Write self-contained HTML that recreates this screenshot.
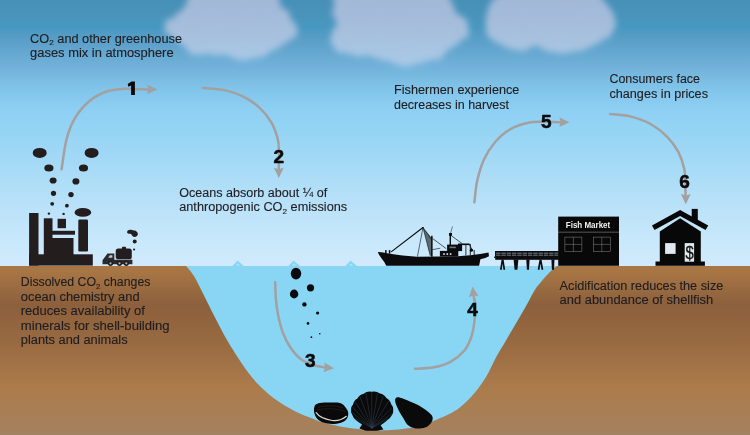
<!DOCTYPE html>
<html>
<head>
<meta charset="utf-8">
<title>Ocean acidification</title>
<style>
html,body{margin:0;padding:0;background:#fff;}
body{width:750px;height:435px;overflow:hidden;font-family:"Liberation Sans",sans-serif;}
svg{display:block;will-change:transform;}
.t{font-family:"Liberation Sans",sans-serif;font-size:12.5px;fill:#1f1d20;stroke:#1f1d20;stroke-width:0.12px;}
.n{font-family:"Liberation Sans",sans-serif;font-size:19px;font-weight:bold;fill:#0a0a0c;stroke:#0a0a0c;stroke-width:0.55px;stroke-linejoin:round;text-anchor:middle;}
.ar{fill:none;stroke:#a3a0a0;stroke-width:2.5;stroke-linecap:round;}
.ah{fill:#a3a0a0;}
.k{fill:#231d1e;}
#house .k{fill:#080808;}
#shells .k{fill:#0a0a0b;}
#pier.k{fill:#0d0d0f;}
</style>
</head>
<body>
<svg width="750" height="435" viewBox="0 0 750 435">
<defs>
<linearGradient id="sky" x1="0" y1="0" x2="0" y2="266" gradientUnits="userSpaceOnUse">
<stop offset="0.0000" stop-color="#4690b8"/>
<stop offset="0.0564" stop-color="#4a93bb"/>
<stop offset="0.1015" stop-color="#4698c0"/>
<stop offset="0.1316" stop-color="#549cc5"/>
<stop offset="0.1692" stop-color="#5ea2cb"/>
<stop offset="0.2444" stop-color="#70b0d8"/>
<stop offset="0.3383" stop-color="#82c5ea"/>
<stop offset="0.4060" stop-color="#8dcff3"/>
<stop offset="0.4699" stop-color="#93d3f4"/>
<stop offset="0.5639" stop-color="#9ed7f5"/>
<stop offset="0.7143" stop-color="#b2dff8"/>
<stop offset="0.8459" stop-color="#c2e5fa"/>
<stop offset="0.9586" stop-color="#cdeafc"/>
<stop offset="1.0000" stop-color="#d2e9fc"/>
</linearGradient>
<linearGradient id="gnd" x1="0" y1="266" x2="0" y2="435" gradientUnits="userSpaceOnUse">
<stop offset="0" stop-color="#a87645"/>
<stop offset="0.03" stop-color="#a87645"/>
<stop offset="0.23" stop-color="#8c603c"/>
<stop offset="0.47" stop-color="#9a6b42"/>
<stop offset="0.73" stop-color="#ac7c4c"/>
<stop offset="0.96" stop-color="#a6805c"/>
<stop offset="1" stop-color="#a08262"/>
</linearGradient>
<linearGradient id="cg" x1="0" y1="0" x2="0" y2="64" gradientUnits="userSpaceOnUse"><stop offset="0" stop-color="#a2b8d7"/><stop offset="0.55" stop-color="#a6c0dd"/><stop offset="1" stop-color="#a9cae7"/></linearGradient>
<filter id="cb" x="-5%" y="-20%" width="110%" height="150%"><feTurbulence type="fractalNoise" baseFrequency="0.075" numOctaves="2" seed="4" result="n"/><feDisplacementMap in="SourceGraphic" in2="n" scale="9" xChannelSelector="R" yChannelSelector="G" result="d"/><feGaussianBlur in="d" stdDeviation="3.1"/></filter>
<path id="head" d="M0,0 L-10.3,-4.9 L-8.8,0 L-10.3,4.9 Z"/>
</defs>

<!-- sky -->
<rect x="0" y="0" width="750" height="270" fill="url(#sky)"/>

<!-- clouds -->
<g id="clouds" filter="url(#cb)" fill="url(#cg)">
<path d="M191.0,-8.0 C189.5,-5.2 184.9,4.7 182.0,8.5 C179.1,12.3 176.3,12.9 173.5,15.0 C170.7,17.1 166.2,18.5 165.0,21.3 C163.8,24.1 164.2,28.8 166.0,32.0 C167.8,35.2 172.2,37.7 175.6,40.5 C179.0,43.3 182.4,46.3 186.3,49.0 C190.2,51.7 194.4,55.4 199.0,56.5 C203.6,57.6 209.4,55.5 214.0,55.5 C218.6,55.5 222.2,55.6 226.8,56.5 C231.4,57.4 236.7,60.6 241.7,60.8 C246.7,61.0 252.1,58.9 256.7,57.6 C261.3,56.4 265.2,55.2 269.5,53.3 C273.8,51.3 278.4,48.4 282.3,45.9 C286.2,43.4 290.5,41.1 293.0,38.4 C295.5,35.7 297.2,33.1 297.2,29.9 C297.2,26.7 294.8,22.4 293.0,19.2 C291.2,16.0 288.7,13.4 286.5,10.7 C284.3,8.0 281.4,6.3 280.0,3.2 C278.6,0.1 278.3,-6.1 278.0,-8.0 Z"/>
<path d="M335.0,-8.0 C334.4,-4.9 331.5,5.4 331.7,10.7 C331.9,15.9 336.4,19.2 336.0,23.5 C335.6,27.8 330.3,32.4 329.6,36.3 C328.9,40.2 329.4,44.2 331.7,47.0 C334.0,49.8 338.3,51.9 343.5,53.3 C348.7,54.7 356.7,54.4 362.7,55.5 C368.7,56.6 374.4,58.3 379.7,59.7 C385.0,61.1 389.0,63.1 394.7,64.0 C400.4,64.9 407.8,65.5 413.9,65.0 C419.9,64.5 425.7,62.8 431.0,60.8 C436.3,58.8 441.6,56.0 445.9,53.3 C450.1,50.6 452.9,47.6 456.5,44.8 C460.1,42.0 465.1,39.1 467.2,36.3 C469.3,33.4 470.4,30.9 469.3,27.7 C468.2,24.5 463.6,20.6 460.8,17.0 C458.0,13.5 454.6,10.6 452.3,6.4 C450.0,2.2 447.9,-5.6 447.0,-8.0 Z"/>
<path d="M499.0,-8.0 C497.5,-5.8 492.5,0.8 490.0,5.0 C487.5,9.2 484.8,12.5 484.0,17.0 C483.2,21.5 483.5,28.2 485.0,32.0 C486.5,35.8 490.2,38.1 493.0,40.0 C495.8,41.9 499.0,42.0 502.0,43.5 C505.0,45.0 508.2,47.8 511.0,49.0 C513.8,50.2 515.8,50.7 519.0,50.5 C522.2,50.3 526.5,48.7 530.0,48.0 C533.5,47.3 536.7,45.9 540.0,46.5 C543.3,47.1 546.7,50.3 550.0,51.5 C553.3,52.7 556.5,53.4 560.0,53.5 C563.5,53.6 567.5,52.7 571.0,52.0 C574.5,51.3 577.5,50.3 581.0,49.5 C584.5,48.7 588.5,48.1 592.0,47.0 C595.5,45.9 598.8,44.8 602.0,43.0 C605.2,41.2 608.7,38.6 611.0,36.0 C613.3,33.4 615.4,30.8 616.0,27.5 C616.6,24.2 615.3,19.1 614.5,16.0 C613.7,12.9 612.4,11.2 611.0,9.0 C609.6,6.8 607.8,5.8 606.0,3.0 C604.2,0.2 601.0,-6.2 600.0,-8.0 Z"/>
</g>

<!-- ground -->
<rect x="0" y="266" width="750" height="169" fill="url(#gnd)"/>

<!-- water -->
<path id="water" fill="#88d5f4" d="M186.2,266 L232.4,266 L237.6,260.5 L243.8,266 L288.4,266 L293.6,260.5 L299.8,266 L345.4,266 L350.6,260.5 L356.8,266 L556.9,266 C555.8,266.9 552.8,269.2 550.5,271.5 C548.2,273.8 545.6,276.4 543.0,279.5 C540.4,282.6 537.3,286.1 534.8,289.9 C532.3,293.7 530.5,298.1 528.0,302.5 C525.5,306.9 522.7,311.8 520.0,316.5 C517.3,321.2 514.5,325.9 511.8,330.5 C509.1,335.1 506.6,339.7 504.0,344.0 C501.4,348.3 499.1,351.7 496.5,356.5 C493.9,361.3 490.8,368.3 488.3,372.9 C485.8,377.5 483.7,380.7 481.4,384.0 C479.1,387.3 476.8,390.1 474.5,392.9 C472.2,395.6 469.9,398.2 467.6,400.5 C465.3,402.8 463.0,404.8 460.7,406.7 C458.4,408.6 456.1,410.2 453.8,411.6 C451.5,413.0 449.4,414.1 446.8,415.3 C444.2,416.5 440.6,417.9 438.1,419.0 C435.6,420.1 434.6,420.6 431.6,421.6 C428.6,422.6 424.1,423.8 420.0,425.0 C415.9,426.2 413.2,427.7 406.7,428.6 C400.2,429.5 389.9,430.5 381.0,430.5 C372.1,430.5 360.7,429.5 353.0,428.6 C345.3,427.7 340.5,426.5 335.0,425.3 C329.5,424.1 323.8,422.8 320.0,421.7 C316.2,420.6 315.5,419.8 312.4,418.6 C309.3,417.4 305.0,415.9 301.4,414.3 C297.8,412.7 294.1,410.8 290.5,408.8 C286.9,406.8 283.2,404.6 279.6,402.2 C276.0,399.8 272.3,397.2 268.7,394.2 C265.1,391.2 261.7,388.0 258.2,384.3 C254.7,380.6 250.9,376.2 247.6,371.8 C244.3,367.4 241.6,363.3 238.2,358.0 C234.8,352.7 230.9,346.8 227.0,340.0 C223.1,333.2 218.9,325.1 215.0,317.5 C211.1,309.9 207.0,301.4 203.5,294.5 C200.0,287.6 196.9,280.9 194.0,276.1 C191.1,271.4 187.5,267.7 186.2,266.0 Z"/>

<g fill="#b4e5fa"><path d="M236,265.6 L237.8,263.4 L240.2,265.6 Z"/><path d="M292,265.6 L293.8,263.4 L296.2,265.6 Z"/><path d="M349,265.6 L350.8,263.4 L353.2,265.6 Z"/></g>
<!-- arrows -->
<g id="arrows">
<path class="ar" d="M61.6,169.3 C62.4,164.2 64.4,147.5 66.6,139.0 C68.8,130.5 71.1,124.5 74.8,118.3 C78.5,112.1 83.5,106.1 88.6,101.7 C93.7,97.3 99.2,94.2 105.2,92.0 C111.2,89.8 117.4,89.2 124.5,88.8 C131.6,88.4 144.1,89.4 148.0,89.5"/>
<use href="#head" class="ah" transform="translate(157.3,89.6) rotate(1)"/>
<path class="ar" d="M203.0,87.9 C206.3,88.2 216.5,88.5 223.1,89.9 C229.7,91.3 236.4,93.3 242.4,96.2 C248.4,99.1 254.1,102.8 258.9,107.2 C263.7,111.6 268.2,117.1 271.3,122.4 C274.4,127.7 276.4,133.9 277.7,138.9 C279.0,143.9 278.8,147.8 279.0,152.7 C279.2,157.6 278.8,165.9 278.8,168.5"/>
<use href="#head" class="ah" transform="translate(278.8,178.1) rotate(90)"/>
<path class="ar" d="M275.2,282.3 C275.3,285.1 275.4,293.6 275.9,299.2 C276.4,304.8 277.1,310.4 278.3,316.0 C279.5,321.6 281.0,327.8 283.0,333.0 C285.0,338.2 287.3,343.1 290.4,347.5 C293.4,351.9 297.5,356.7 301.3,359.6 C305.1,362.5 309.4,363.7 313.3,365.0 C317.2,366.3 323.1,367.1 325.0,367.5"/>
<use href="#head" class="ah" transform="translate(334,368.2) rotate(5)"/>
<path class="ar" d="M415.1,368.8 C418.2,368.6 428.1,368.5 434.0,367.3 C439.9,366.1 445.8,364.4 450.8,361.6 C455.8,358.8 460.9,354.6 464.4,350.5 C467.8,346.4 469.8,341.5 471.4,336.5 C473.1,331.7 473.9,326.1 474.5,320.8 C475.1,315.6 475.1,309.2 475.0,305.0 C474.9,300.8 473.8,297.1 473.6,295.5"/>
<use href="#head" class="ah" transform="translate(472.6,286.6) rotate(-96)"/>
<path class="ar" d="M474.4,202.3 C474.9,198.7 475.6,188.0 477.2,180.8 C478.8,173.7 481.0,165.9 484.0,159.4 C487.0,152.9 491.0,146.8 495.4,141.7 C499.8,136.6 505.0,132.3 510.5,129.1 C516.0,125.9 522.5,123.9 528.2,122.7 C534.0,121.5 539.7,121.9 545.0,121.8 C550.3,121.7 557.5,122.1 560.0,122.2"/>
<use href="#head" class="ah" transform="translate(569.5,122.2)"/>
<path class="ar" d="M610.1,113.9 C613.5,114.3 623.6,114.7 630.3,116.4 C637.0,118.1 644.4,120.6 650.5,124.0 C656.6,127.4 662.4,132.0 667.0,136.6 C671.6,141.2 675.4,146.5 678.3,151.8 C681.1,157.1 682.9,162.9 684.1,168.2 C685.3,173.5 685.2,178.9 685.4,183.4 C685.6,187.9 685.5,193.1 685.5,195.0"/>
<use href="#head" class="ah" transform="translate(685.8,204.3) rotate(90)"/>
</g>

<!-- numbers -->
<g id="nums">
<path fill="#0a0a0c" d="M131.5,81.4 L134.9,81.4 L134.9,95.1 L131.1,95.1 L131.1,85.4 L128.4,86.8 L127.7,83.9 Z"/>
<text class="n" x="278.9" y="162.9">2</text>
<text class="n" x="310.3" y="366.6">3</text>
<text class="n" x="472.6" y="315.5">4</text>
<text class="n" x="546.2" y="128.2">5</text>
<text class="n" x="684.6" y="187.8">6</text>
</g>

<!-- labels -->
<g id="labels">
<text class="t" x="30.1" y="42.8" textLength="151.9" lengthAdjust="spacingAndGlyphs">CO<tspan font-size="8" dy="2.5">2</tspan><tspan dy="-2.5"> and other greenhouse</tspan></text>
<text class="t" x="30.1" y="57.2" textLength="143.5" lengthAdjust="spacingAndGlyphs">gases mix in atmosphere</text>

<text class="t" x="179.2" y="196.7" textLength="148" lengthAdjust="spacingAndGlyphs">Oceans absorb about ¼ of</text>
<text class="t" x="179.2" y="211.2" textLength="168" lengthAdjust="spacingAndGlyphs">anthropogenic CO<tspan font-size="8" dy="2.5">2</tspan><tspan dy="-2.5"> emissions</tspan></text>

<text class="t" x="394" y="94" textLength="125.4" lengthAdjust="spacingAndGlyphs">Fishermen experience</text>
<text class="t" x="394" y="108.5" textLength="115" lengthAdjust="spacingAndGlyphs">decreases in harvest</text>

<text class="t" x="609.4" y="83" textLength="90.6" lengthAdjust="spacingAndGlyphs">Consumers face</text>
<text class="t" x="609.4" y="97.6" textLength="98.6" lengthAdjust="spacingAndGlyphs">changes in prices</text>

<text class="t" x="20.8" y="286.3" textLength="129.6" lengthAdjust="spacingAndGlyphs">Dissolved CO<tspan font-size="8" dy="2.5">2</tspan><tspan dy="-2.5"> changes</tspan></text>
<text class="t" x="20.8" y="300.8" textLength="118.8" lengthAdjust="spacingAndGlyphs">ocean chemistry and</text>
<text class="t" x="20.8" y="315.2" textLength="124.1" lengthAdjust="spacingAndGlyphs">reduces availability of</text>
<text class="t" x="20.8" y="329.8" textLength="148.8" lengthAdjust="spacingAndGlyphs">minerals for shell-building</text>
<text class="t" x="20.8" y="344.3" textLength="106.8" lengthAdjust="spacingAndGlyphs">plants and animals</text>

<text class="t" x="559.6" y="289.9" textLength="163.7" lengthAdjust="spacingAndGlyphs">Acidification reduces the size</text>
<text class="t" x="559.6" y="304.4" textLength="153.6" lengthAdjust="spacingAndGlyphs">and abundance of shellfish</text>
</g>


<!-- factory -->
<g id="factory" class="k">
<rect x="29.1" y="213" width="9.4" height="52.6"/>
<rect x="29.1" y="254.3" width="63.7" height="11.3"/>
<rect x="43.8" y="218.3" width="8.7" height="37"/>
<rect x="52" y="230.8" width="23" height="3.9"/>
<rect x="52" y="238" width="21.5" height="17"/>
<rect x="57.6" y="218.8" width="8.4" height="9.4"/>
<rect x="78.3" y="219.5" width="9.7" height="31.9" rx="1.2"/>
<ellipse cx="82.9" cy="212.4" rx="8.3" ry="4.4"/>
</g>
<!-- factory smoke -->
<g id="smoke" class="k">
<ellipse cx="39.7" cy="152.9" rx="7" ry="5"/>
<ellipse cx="48.9" cy="168" rx="4.6" ry="3.5"/>
<ellipse cx="53.1" cy="180.5" rx="3.5" ry="3.1"/>
<circle cx="53.5" cy="193.3" r="2.6"/>
<circle cx="52.2" cy="203.8" r="1.9"/>
<circle cx="48.9" cy="213.6" r="1.2"/>
<ellipse cx="91.6" cy="152.9" rx="7" ry="5"/>
<ellipse cx="83.5" cy="168" rx="4.6" ry="3.5"/>
<ellipse cx="75.9" cy="181.4" rx="3.5" ry="3.1"/>
<circle cx="71" cy="194.6" r="2.7"/>
<circle cx="66.9" cy="205.7" r="1.9"/>
<circle cx="63.6" cy="213.9" r="1.2"/>
</g>
<!-- truck -->
<g id="truck">
<path class="k" d="M127.1,232.1 C127.2,229.7 130.2,229.3 132.6,230.2 C134.4,230.1 136.8,230.8 137.6,232.8 C138.4,235 137,237 134.8,236.9 C132.8,236.8 131.8,235.4 131.4,234.2 C130.4,233.8 127.0,234.3 127.1,232.1 Z"/>
<circle class="k" cx="134.7" cy="241.6" r="2"/>
<circle class="k" cx="134.1" cy="249.5" r="1.1"/>
<rect class="k" x="122" y="246.8" width="4" height="2.2" rx="0.6"/>
<rect class="k" x="115.7" y="248.5" width="16.1" height="10.8" rx="2.6"/>
<path fill="#2c2a2b" d="M102.5,264.3 L102.5,260.2 L107.4,253.6 L114.3,253.6 L114.3,259.7 L132.4,259.7 L132.4,264.3 Z"/>
<path fill="#b9cbd6" d="M108.2,257.8 L109.8,255.2 L112.4,255.2 L112.4,257.8 Z"/>
<circle class="k" cx="110.5" cy="263.3" r="2.6"/><circle fill="#aeb4b8" cx="110.5" cy="263.3" r="1.1"/>
<circle class="k" cx="119.5" cy="263.3" r="2.6"/><circle fill="#aeb4b8" cx="119.5" cy="263.3" r="1.1"/>
<circle class="k" cx="126.3" cy="263.3" r="2.6"/><circle fill="#aeb4b8" cx="126.3" cy="263.3" r="1.1"/>
</g>
<!-- water bubbles -->
<g id="bubbles" fill="#0b0b0d">
<ellipse cx="296" cy="273.6" rx="5.2" ry="5.8"/>
<circle cx="310.5" cy="287.8" r="3.6"/>
<ellipse cx="294.1" cy="294" rx="4.2" ry="4.4"/>
<circle cx="304.4" cy="304.4" r="2.2"/>
<circle cx="317.6" cy="313" r="1.6"/>
<circle cx="308" cy="323.4" r="1.3"/>
<circle cx="319.8" cy="333.8" r="0.8"/>
<circle cx="311.4" cy="337.2" r="0.9"/>
</g>
<!-- boat -->
<g id="boat" fill="#0b0b0d" stroke="#0b0b0d" stroke-linecap="round">
<path stroke="none" d="M377.8,252 L381.6,252.3 L391.5,254 L402.6,255.6 L416.9,256.7 L440,256.6 L458,256.2 L470,255.2 L480.2,254 L488.5,252.6 L489,256.2 L485.2,257.9 L480.4,259.2 L479.1,265.8 L386.2,265.8 L384.4,262.3 L381.6,258.4 L378.9,254.5 Z"/>
<rect stroke="none" x="385.1" y="250.1" width="1.5" height="3"/>
<rect stroke="none" x="388.8" y="250.1" width="1.6" height="3.6"/>
<line x1="391.5" y1="251.6" x2="423" y2="227.5" stroke-width="1.15"/>
<line x1="423" y1="227.5" x2="417.5" y2="256.2" stroke-width="0.6"/>
<path stroke="none" fill="#3a4046" opacity="0.75" d="M423,227.5 L430.2,255.5 L431.8,255.5 L431.8,238 Z"/>
<line x1="423" y1="227.5" x2="430.2" y2="255.5" stroke-width="0.6"/>
<line x1="423" y1="227.5" x2="431.8" y2="240" stroke-width="0.6"/>
<rect stroke="none" x="431.1" y="235.8" width="1.5" height="21"/>
<line x1="432.7" y1="238.6" x2="446" y2="248.5" stroke-width="0.65"/>
<line x1="432.7" y1="249.6" x2="439.9" y2="248.3" stroke-width="0.6"/>
<rect stroke="none" x="439.9" y="250.9" width="18.4" height="5.6"/>
<rect stroke="none" x="447.1" y="244.6" width="15" height="6.5"/>
<rect stroke="none" x="449.6" y="233" width="1.4" height="12"/>
<rect stroke="none" x="449" y="233" width="3" height="2.8"/>
<line x1="450.6" y1="233" x2="452.4" y2="226.8" stroke-width="0.5"/>
<line x1="451.5" y1="235.8" x2="462" y2="243.5" stroke-width="0.65"/>
<rect stroke="none" x="458" y="243.5" width="11.4" height="1.6"/>
<line x1="469.2" y1="244.1" x2="472.5" y2="250.7" stroke-width="0.8"/>
<circle stroke="none" cx="471.4" cy="250.2" r="1.6"/>
<rect stroke="none" x="469.8" y="244" width="0.9" height="11"/>
<rect stroke="none" x="473.7" y="250" width="0.9" height="5"/>
<rect stroke="none" x="465.5" y="245" width="0.8" height="10.5"/>
<g stroke="none" fill="#b5cfdf">
<rect x="443.2" y="253.1" width="1.6" height="1.9"/><rect x="446.5" y="253.1" width="1.6" height="1.9"/><rect x="449.8" y="253.1" width="1.6" height="1.9"/>
<rect x="449.6" y="246.6" width="6.2" height="1.6" opacity="0.55"/>
</g>
</g>
<!-- pier -->
<g id="pier" class="k">
<rect x="494.2" y="256.6" width="1.4" height="1.4"/>
<rect x="495.2" y="251" width="63.6" height="8.8"/>
<g fill="#7f8b94">
<rect x="496" y="252.7" width="62" height="0.9"/>
<rect x="496" y="254.7" width="62" height="0.9"/>
</g>
<g>
<rect x="495.2" y="251" width="0.9" height="6"/>
<rect x="500.5" y="251" width="0.9" height="6"/><rect x="505.8" y="251" width="0.9" height="6"/><rect x="511.1" y="251" width="0.9" height="6"/><rect x="516.4" y="251" width="0.9" height="6"/><rect x="521.7" y="251" width="0.9" height="6"/><rect x="527" y="251" width="0.9" height="6"/><rect x="532.3" y="251" width="0.9" height="6"/><rect x="537.6" y="251" width="0.9" height="6"/><rect x="542.9" y="251" width="0.9" height="6"/><rect x="548.2" y="251" width="0.9" height="6"/><rect x="553.5" y="251" width="0.9" height="6"/>
</g>
<path d="M501.6,259.5 L503.6,259.5 L505.2,269.8 L503.4,269.8 L502.6,263.5 L501.8,269.8 L500,269.8 Z"/>
<path d="M513.6,259.5 L518.4,259.5 L517.4,269.8 L514.6,269.8 Z"/>
<path d="M526.3,259.5 L529.6,259.5 L529,269.8 L526.9,269.8 Z"/>
<path d="M539.5,259.5 L541.5,259.5 L543.3,269.8 L541.5,269.8 L540.5,263.5 L539.5,269.8 L537.7,269.8 Z"/>
<path d="M551.4,259.5 L554.5,259.5 L554,269.8 L551.9,269.8 Z"/>
</g>
<!-- fish market -->
<g id="market">
<rect fill="#080808" x="558.2" y="216.6" width="60.8" height="49.2"/>
<rect x="558.2" y="231.8" width="60.8" height="0.6" fill="#8d8d8d"/>
<text x="588" y="227.9" text-anchor="middle" font-family="Liberation Sans, sans-serif" font-weight="bold" font-size="8.6" fill="#f2f2f2" textLength="44.4" lengthAdjust="spacingAndGlyphs">Fish Market</text>
<g fill="none" stroke="#7d7d7d" stroke-width="0.55">
<rect x="564.9" y="237.1" width="17" height="14.6"/>
<line x1="573.4" y1="237.1" x2="573.4" y2="251.7"/><line x1="564.9" y1="244.4" x2="581.9" y2="244.4"/>
<rect x="593.3" y="237.1" width="17" height="14.6"/>
<line x1="601.8" y1="237.1" x2="601.8" y2="251.7"/><line x1="593.3" y1="244.4" x2="610.3" y2="244.4"/>
</g>
</g>
<!-- house -->
<g id="house" class="kk">
<rect class="k" x="691.7" y="208.9" width="6.1" height="13"/>
<path class="k" d="M680.1,209.9 L708.2,225.6 L705.6,230 L680.1,216 L654.5,230 L652,225.6 Z"/>
<path class="k" d="M659.8,262 L659.8,231.4 L680.1,218.2 L700.8,231.4 L700.8,262 Z"/>
<rect class="k" x="655.5" y="261.5" width="49.4" height="4.3"/>
<rect x="665.1" y="243.1" width="10.5" height="10.8" fill="#dfe9ef"/>
<rect x="684.7" y="243.1" width="9.4" height="18.6" fill="#dfe9ef"/>
<text transform="translate(689.6,258.6) scale(0.78,1)" x="0" y="0" text-anchor="middle" font-family="Liberation Sans, sans-serif" font-size="19" fill="#111" stroke="#111" stroke-width="0.3">$</text>
</g>
<!-- shells -->
<g id="shells">
<path class="k" d="M314.0,408.5 C314.2,407.9 314.5,405.7 315.5,404.8 C316.5,403.9 317.8,403.4 320.0,403.0 C322.2,402.6 325.8,402.6 329.0,402.6 C332.2,402.6 336.5,402.3 339.0,402.8 C341.5,403.3 342.5,403.9 344.0,405.5 C345.5,407.1 347.8,410.1 348.2,412.4 C348.6,414.6 347.8,417.3 346.6,419.0 C345.4,420.7 343.4,422.0 341.0,422.8 C338.6,423.6 335.0,424.0 332.0,424.0 C329.0,424.0 325.5,423.5 323.0,422.6 C320.5,421.7 318.4,420.1 317.0,418.5 C315.6,416.9 314.8,414.7 314.3,413.0 C313.8,411.3 314.1,409.2 314.0,408.5 Z"/>
<path fill="none" stroke="#3a2a22" stroke-width="0.5" d="M318,407.5 C324,405.2 336,405 343,408 M317,410 C325,408 337,408.2 345,411.5"/>
<path fill="none" stroke="#dcd6cf" stroke-width="1.15" stroke-linecap="round" d="M316.2,412.6 C318.5,416.2 323.6,418.9 332,420.5 C337,421 342.5,419.6 346.3,416.3"/>
<path class="k" d="M361.4,424.0 Q357.1,421.4 356.5,420.6 Q353.0,417.4 353.0,416.2 Q350.5,412.3 351.2,410.8 Q350.7,406.4 353.0,404.8 Q354.0,400.1 357.2,398.8 Q359.5,394.5 363.2,394.0 Q367.2,390.9 371.6,391.7 Q376.0,390.6 380.0,393.4 Q384.0,393.9 386.6,398.2 Q390.1,399.8 391.4,404.8 Q393.7,406.7 393.1,411.4 Q393.6,412.9 390.8,416.8 Q390.5,417.7 386.8,420.6 Q386.4,421.4 382.4,424.0 L380.6,425.2 L383.4,429.6 L377,430.8 L366,430.8 L359.4,428.6 L362,424.6 Z"/>
<g fill="none" stroke="#3f5468" stroke-width="0.45" opacity="0.85"><line x1="371.8" y1="428.2" x2="352.2" y2="412.5"/><line x1="371.8" y1="428.2" x2="352.5" y2="407.0"/><line x1="371.8" y1="428.2" x2="355.0" y2="401.5"/><line x1="371.8" y1="428.2" x2="359.8" y2="396.2"/><line x1="371.8" y1="428.2" x2="366.0" y2="392.8"/><line x1="371.8" y1="428.2" x2="371.7" y2="392.0"/><line x1="371.8" y1="428.2" x2="377.5" y2="392.6"/><line x1="371.8" y1="428.2" x2="383.5" y2="395.6"/><line x1="371.8" y1="428.2" x2="388.8" y2="401.0"/><line x1="371.8" y1="428.2" x2="392.0" y2="407.6"/><line x1="371.8" y1="428.2" x2="392.0" y2="413.5"/><line x1="371.8" y1="428.2" x2="355.0" y2="418.0"/><line x1="371.8" y1="428.2" x2="388.5" y2="418.5"/></g>
<path class="k" d="M395.3,398.8 C395.6,398.5 396.2,397.3 397.4,397.2 C398.6,397.1 400.2,397.6 402.3,398.3 C404.4,399.0 407.2,400.3 409.9,401.5 C412.6,402.7 415.8,403.9 418.5,405.3 C421.2,406.8 423.9,408.6 426.1,410.2 C428.3,411.8 430.4,413.5 431.5,415.0 C432.6,416.5 432.9,417.9 432.6,419.4 C432.3,420.9 431.2,422.8 429.9,424.2 C428.6,425.6 427.1,426.8 425.0,427.5 C422.9,428.2 419.8,428.6 417.4,428.5 C415.0,428.4 412.7,427.7 410.9,426.9 C409.1,426.1 407.9,425.1 406.6,423.7 C405.4,422.3 404.5,420.1 403.4,418.3 C402.3,416.5 401.2,414.9 400.1,412.9 C399.0,410.9 397.7,408.2 396.9,406.4 C396.1,404.6 395.6,403.3 395.3,402.0 C395.0,400.7 395.3,399.3 395.3,398.8 Z"/>
</g>

<!--ILLUSTRATIONS-->
</svg>
</body>
</html>
